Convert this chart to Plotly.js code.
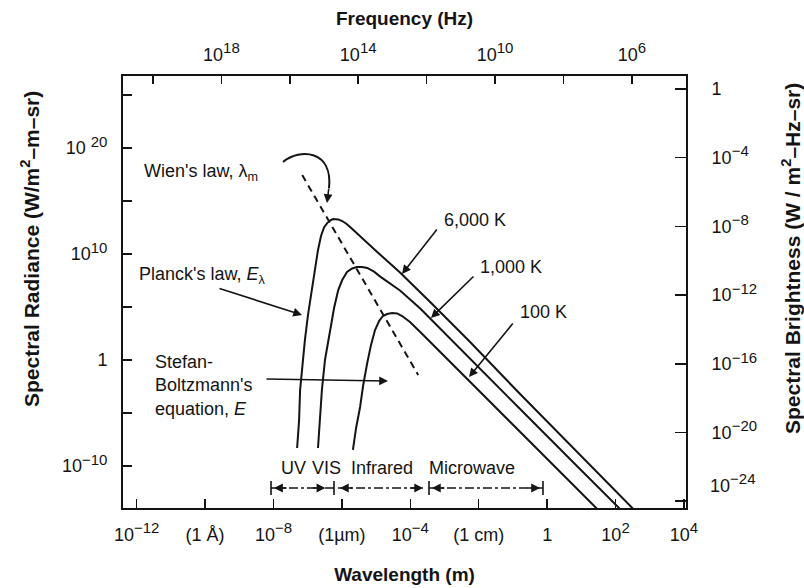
<!DOCTYPE html>
<html>
<head>
<meta charset="utf-8">
<script src="https://cdn.plot.ly/plotly-3.0.1.min.js"></script>
<style>html,body{margin:0;padding:0;background:#fff;}#chart{width:804px;height:588px;}</style>
</head>
<body>
<div id="chart"></div>
<script>
// ---- Data ----
const SUP = s => '<sup><span style="font-size:15px">' + s + '</span></sup>';
const wavelengthTicks = [1e-12, 1e-10, 1e-8, 1e-6, 1e-4, 1e-2, 1, 1e2, 1e4];
const wavelengthTickText = ['10' + SUP('\u221212'), '(1 \u00C5)', '10' + SUP('\u22128'), '(1\u00B5m)', '10' + SUP('\u22124'), '(1 cm)', '1', '10' + SUP('2'), '10' + SUP('4')];
const frequencyTicks = [1e20, 1e18, 1e16, 1e14, 1e12, 1e10, 1e8, 1e6];
const frequencyTickText = ['', '10' + SUP('18'), '', '10' + SUP('14'), '', '10' + SUP('10'), '', '10' + SUP('6')];
const radianceTicks = [1e25, 1e20, 1e15, 1e10, 1e5, 1, 1e-5, 1e-10];
const radianceTickText = ['', '10 ' + SUP('20'), '', '10' + SUP('10'), '', '1', '', '10' + SUP('\u221210')];
const brightnessTicks = [1, 1e-4, 1e-8, 1e-12, 1e-16, 1e-20, 1e-24];
const brightnessTickText = ['1', '10' + SUP('\u22124'), '10' + SUP('\u22128'), '10' + SUP('\u221212'), '10' + SUP('\u221216'), '10' + SUP('\u221220'), ''];

const lambda6000 = [4.9e-8, 5.6e-8, 6.0e-8, 6.9e-8, 8.3e-8, 1.02e-7, 1.35e-7, 1.66e-7, 2.0e-7, 2.45e-7, 3.0e-7, 3.7e-7, 4.5e-7, 5.5e-7, 7.8e-7, 1.02e-6, 1.32e-6, 1.74e-6, 9.3e-6, 5.0e-5, 3.8e-4, 5.6e-3, 0.162, 9.1, 525];
const radiance6000 = [4.9e-9, 2.1e-6, 1.5e-3, 0.33, 76, 1.8e4, 3.9e6, 4.7e8, 2.3e10, 4.9e11, 3.1e12, 8.1e12, 1.4e13, 1.95e13, 1.78e13, 1.26e13, 7.4e12, 3.5e12, 2.3e10, 1.78e8, 2.9e5, 49, 6.0e-4, 1.07e-9, 1.9e-15];

const lambda1000 = [2.0e-7, 2.3e-7, 2.6e-7, 3.2e-7, 4.5e-7, 5.9e-7, 7.8e-7, 1.02e-6, 1.41e-6, 2.0e-6, 2.75e-6, 3.9e-6, 5.5e-6, 8.7e-6, 1.32e-5, 2.6e-5, 5.0e-5, 1.95e-4, 5.6e-3, 0.162, 9.1, 190];
const radiance1000 = [4.9e-9, 2.1e-6, 1.5e-3, 0.98, 660, 7.9e4, 3.9e6, 3.4e7, 1.95e8, 4.2e8, 5.8e8, 5.8e8, 4.7e8, 2.1e8, 7.2e7, 1.6e7, 3.5e6, 7.1e4, 1.2, 2.3e-5, 5.1e-11, 2.9e-15];

const lambda100 = [2.1e-6, 2.6e-6, 3.4e-6, 4.2e-6, 5.5e-6, 7.1e-6, 9.3e-6, 1.23e-5, 1.58e-5, 2.1e-5, 2.95e-5, 4.1e-5, 5.75e-5, 9.8e-5, 1.95e-4, 5.6e-3, 0.162, 2.4, 44];
const radiance100 = [3.2e-9, 3.8e-7, 3.6e-5, 4.3e-3, 0.51, 26, 660, 4.9e3, 1.38e4, 2.1e4, 2.6e4, 2.4e4, 1.38e4, 3.8e3, 430, 8.3e-3, 1.6e-7, 2.6e-11, 2.3e-15];

const wienLambda = [6.9e-8, 1.7e-4];
const wienRadiance = [2.75e17, 0.038];

// ---- Chart ----
const FONT = 'Liberation Sans, Arial, Helvetica, sans-serif';
const INK = '#141414';
const curve = (x, y, name) => ({x: x, y: y, name: name, type: 'scatter', mode: 'lines', line: {color: INK, width: 2}, hoverinfo: 'name', xaxis: 'x', yaxis: 'y'});

const traces = [
  curve(lambda6000, radiance6000, '6,000 K'),
  curve(lambda1000, radiance1000, '1,000 K'),
  curve(lambda100, radiance100, '100 K'),
  {x: wienLambda, y: wienRadiance, name: "Wien's law", type: 'scatter', mode: 'lines', line: {color: INK, width: 2, dash: '7px,5px'}, xaxis: 'x', yaxis: 'y'},
  // empty traces so that the frequency (top) and brightness (right) axes are drawn
  {x: [], y: [], type: 'scatter', mode: 'lines', xaxis: 'x2', yaxis: 'y', hoverinfo: 'skip'},
  {x: [], y: [], type: 'scatter', mode: 'lines', xaxis: 'x', yaxis: 'y2', hoverinfo: 'skip'}
];

const axisCommon = {type: 'log', tickmode: 'array', ticks: 'inside', tickcolor: INK, tickwidth: 1.5, showline: true, linecolor: INK, linewidth: 2, showgrid: false, zeroline: false, tickfont: {family: FONT, size: 18, color: INK}};

function txt(text, x, y, opts) {
  return Object.assign({text: text, x: x, y: y, xref: 'paper', yref: 'paper', showarrow: false, xanchor: 'left', yanchor: 'middle', font: {family: FONT, size: 18, color: INK}}, opts || {});
}
function arrow(x, y, ax, ay, opts) {
  return Object.assign({text: '', x: x, y: y, xref: 'paper', yref: 'paper', ax: ax, ay: ay, showarrow: true, arrowhead: 2, arrowsize: 1.1, arrowwidth: 1.6, arrowcolor: INK}, opts || {});
}
const titleFont = {family: FONT, size: 21, color: INK, weight: 'bold'};

const annotations = [
  txt('Wien\'s law, \u03BB<sub>m</sub>', 0.0337, 0.7755),
  txt('Planck\'s law, <i>E</i><sub>\u03BB</sub>', 0.0249, 0.539),
  txt('Stefan-<br>Boltzmann\'s<br>equation, <i>E</i>', 0.0533, 0.2847, {align: 'left'}),
  txt('6,000 K', 0.5666, 0.6667),
  txt('1,000 K', 0.6306, 0.5579),
  txt('100 K', 0.7016, 0.4537),
  txt('UV', 0.302, 0.0926, {xanchor: 'center'}),
  txt('VIS', 0.3623, 0.0926, {xanchor: 'center'}),
  txt('Infrared', 0.46, 0.0926, {xanchor: 'center'}),
  txt('Microwave', 0.6199, 0.0926, {xanchor: 'center'}),
  txt('10' + SUP('\u221224'), 1.0391, 0.0579),
  // vertical axis titles
  txt('Spectral Radiance (W/m<sup>2</sup>\u2013m\u2013sr)', -0.1652, 0.5995, {xanchor: 'center', textangle: -90, font: titleFont}),
  txt('Spectral Brightness (W / m<sup>2</sup>\u2013Hz\u2013sr)', 1.1865, 0.5787, {xanchor: 'center', textangle: -90, font: titleFont}),
  // pointer arrows
  arrow(0.318, 0.4468, -84, -27),
  arrow(0.4707, 0.294, -123, -2),
  arrow(0.4956, 0.5417, 36, -46),
  arrow(0.5470, 0.4398, 44, -43),
  arrow(0.6146, 0.3032, 45, -55),
  arrow(0.3623, 0.706, 2, -16),
  // band arrowheads
  arrow(0.2683, 0.0463, 14, 0),
  arrow(0.3594, 0.0463, -14, 0),
  arrow(0.3854, 0.0463, 14, 0),
  arrow(0.5329, 0.0463, -14, 0),
  arrow(0.5488, 0.0463, 14, 0),
  arrow(0.7407, 0.0463, -14, 0)
];

const bandLine = {color: INK, width: 1.6, dash: 'dashdot'};
const capLine = {color: INK, width: 1.6};
const shapes = [
  {type: 'path', xref: 'paper', yref: 'paper', path: 'M 0.2842 0.8009 C 0.3144 0.8333, 0.3730 0.8287, 0.3659 0.7407', line: {color: INK, width: 2}},
  {type: 'line', xref: 'paper', yref: 'paper', x0: 0.2629, x1: 0.3748, y0: 0.0463, y1: 0.0463, line: bandLine},
  {type: 'line', xref: 'paper', yref: 'paper', x0: 0.3819, x1: 0.5329, y0: 0.0463, y1: 0.0463, line: bandLine},
  {type: 'line', xref: 'paper', yref: 'paper', x0: 0.5435, x1: 0.746, y0: 0.0463, y1: 0.0463, line: bandLine},
  {type: 'line', xref: 'paper', yref: 'paper', x0: 0.2629, x1: 0.2629, y0: 0.030, y1: 0.0625, line: capLine},
  {type: 'line', xref: 'paper', yref: 'paper', x0: 0.3748, x1: 0.3748, y0: 0.030, y1: 0.0625, line: capLine},
  {type: 'line', xref: 'paper', yref: 'paper', x0: 0.5435, x1: 0.5435, y0: 0.030, y1: 0.0625, line: capLine},
  {type: 'line', xref: 'paper', yref: 'paper', x0: 0.746, x1: 0.746, y0: 0.030, y1: 0.0625, line: capLine}
];

const layout = {
  width: 804, height: 588,
  margin: {l: 123, r: 118, t: 76, b: 80},
  paper_bgcolor: '#ffffff', plot_bgcolor: '#ffffff',
  showlegend: false,
  font: {family: FONT, size: 18, color: INK},
  xaxis: Object.assign({}, axisCommon, {range: [-12.40, 4.06], tickvals: wavelengthTicks, ticktext: wavelengthTickText, ticklen: 9, ticklabelstandoff: 9, anchor: 'y',
    title: {text: 'Wavelength (m)', standoff: 24, font: {family: FONT, size: 19, color: INK, weight: 'bold'}}}),
  xaxis2: Object.assign({}, axisCommon, {range: [20.877, 4.417], overlaying: 'x', side: 'top', anchor: 'y', tickvals: frequencyTicks, ticktext: frequencyTickText, ticklen: 8, ticklabelstandoff: 6,
    title: {text: 'Frequency (Hz)', standoff: 9, font: {family: FONT, size: 19, color: INK, weight: 'bold'}}}),
  yaxis: Object.assign({}, axisCommon, {range: [-13.97, 26.78], tickvals: radianceTicks, ticktext: radianceTickText, ticklen: 9, ticklabelstandoff: 10}),
  yaxis2: Object.assign({}, axisCommon, {range: [-24.4, 0.76], overlaying: 'y', side: 'right', anchor: 'x', tickvals: brightnessTicks, ticktext: brightnessTickText, ticklen: 11, ticklabelstandoff: 20}),
  annotations: annotations,
  shapes: shapes
};

Plotly.newPlot('chart', traces, layout, {displayModeBar: false, staticPlot: true});
</script>
</body>
</html>
